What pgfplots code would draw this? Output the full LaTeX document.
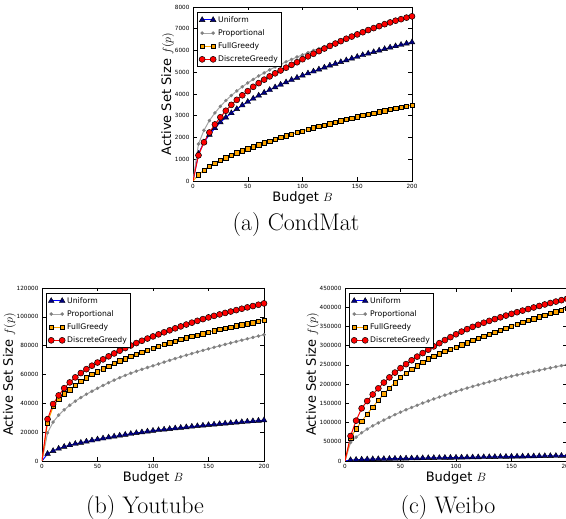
\documentclass[border=0pt]{standalone}
\usepackage{fontspec}
\usepackage{pgfplots}
\usepackage{pgfplotstable}
\pgfplotsset{compat=1.18}
\newfontfamily\dvs{DejaVu Sans}
\definecolor{navyblue}{RGB}{0,0,128}
\definecolor{mgray}{RGB}{128,128,128}
\definecolor{lgray}{RGB}{165,165,165}
\definecolor{morange}{RGB}{255,165,0}

\pgfplotstableread{
B U P F D
0 0 0 0 0
5 1250 1700 280 1180
10 1780 2330 500 1780
15 2130 2780 680 2230
20 2430 3130 820 2600
25 2700 3430 950 2930
30 2920 3700 1070 3230
35 3120 3930 1180 3500
40 3310 4140 1290 3730
45 3480 4330 1390 3940
50 3640 4510 1490 4130
55 3790 4670 1580 4330
60 3930 4830 1670 4500
65 4060 4970 1760 4660
70 4190 5110 1840 4810
75 4310 5240 1920 4950
80 4430 5360 2000 5080
85 4540 5480 2080 5210
90 4650 5590 2150 5340
95 4750 5700 2230 5460
100 4850 5800 2300 5600
105 4950 5900 2370 5730
110 5040 6000 2440 5850
115 5130 6090 2510 5970
120 5220 6180 2570 6090
125 5310 6270 2640 6210
130 5390 6360 2700 6320
135 5470 6450 2770 6430
140 5550 6540 2830 6540
145 5630 6630 2890 6640
150 5710 6720 2950 6740
155 5790 6810 3010 6840
160 5860 6900 3070 6940
165 5930 6990 3120 7030
170 6000 7080 3180 7120
175 6070 7170 3230 7210
180 6140 7250 3290 7290
185 6200 7330 3340 7370
190 6260 7410 3390 7440
195 6320 7490 3440 7510
200 6380 7560 3490 7570
}\condmat

\pgfplotstableread{
B U P F D
0 0 0 0 0
5 5000 19500 26500 29000
10 7000 27000 37800 39500
15 8600 31800 43000 45500
20 9900 35500 46600 50500
25 11000 38700 49500 54500
30 11900 41500 52500 58000
35 12700 44000 55200 61000
40 13500 46300 57700 63700
45 14300 48400 60000 66100
50 15000 50400 62000 68300
55 15700 52400 64000 70500
60 16380 54300 65900 72600
65 17030 56100 67700 74600
70 17660 57800 69400 76500
75 18260 59400 71000 78350
80 18850 60900 72600 80100
85 19420 62300 74100 81800
90 19970 63600 75600 83400
95 20500 64850 77000 84950
100 21000 66000 78300 86400
105 21430 67300 79600 87850
110 21850 68580 80800 89270
115 22260 69830 82000 90660
120 22670 71050 83200 92020
125 23070 72240 84300 93350
130 23470 73400 85400 94660
135 23860 74530 86400 95950
140 24240 75640 87400 97210
145 24620 76730 88400 98430
150 25000 77800 89400 99600
155 25350 78840 90300 100650
160 25690 79860 91200 101680
165 26030 80870 92100 102690
170 26360 81860 92900 103680
175 26690 82840 93700 104650
180 27020 83810 94500 105610
185 27340 84770 95300 106550
190 27660 85720 96000 107480
195 27980 86660 96800 108390
200 28300 87600 97500 109300
}\youtube

\pgfplotstableread{
B U P F D
0 0 0 0 0
5 2500 48000 59000 65000
10 3300 62000 84000 105000
15 3900 73500 103000 137000
20 4400 83000 122000 156000
25 4800 91500 140000 173000
30 5200 99000 158000 189000
35 5500 106500 175000 204000
40 5800 113500 190000 217500
45 6100 120500 204000 230000
50 6400 127000 218000 241500
55 6700 133200 228500 252000
60 7000 139200 238500 262000
65 7250 145000 248000 271500
70 7500 150600 257000 280700
75 7750 156000 265500 289600
80 8000 161300 272500 298200
85 8250 166400 279000 306500
90 8500 171300 285000 314500
95 8700 176200 290500 322200
100 8900 181000 296000 329600
105 9150 185400 302100 336600
110 9400 189700 308000 343000
115 9650 193900 313800 348900
120 9900 198000 319400 354400
125 10150 202000 324900 359600
130 10400 205900 330300 364500
135 10650 209700 335600 369200
140 10900 213400 340800 373800
145 11150 217000 345900 378300
150 11400 220600 351000 382700
155 11650 223800 355900 387000
160 11900 226950 360700 391200
165 12150 230050 365400 395300
170 12400 233100 370100 399300
175 12650 236150 374700 403250
180 12900 239150 379300 407150
185 13150 242150 383800 410950
190 13400 245100 388200 414700
195 13650 248050 392600 418350
200 13900 251000 397000 422000
}\weibo

\pgfplotsset{
  chart/.style={
    scale only axis, width=220pt, height=174pt,
    xmin=0, xmax=200, ymin=0,
    xtick={0,50,100,150,200},
    tick align=inside, major tick length=3.5pt,
    tick style={black, line width=0.5pt},
    axis line style={black, line width=0.8pt},
    tick label style={font=\dvs\fontsize{5.7}{6}\selectfont,
      /pgf/number format/fixed, /pgf/number format/1000 sep={},
      /pgf/number format/assume math mode=true},
    scaled y ticks=false,
    label style={font=\dvs\fontsize{13}{15}\selectfont},
    xlabel={Budget $B$}, ylabel={Active Set Size $f(p)$},
    xlabel style={yshift=4pt},
    ylabel shift=-6pt,
    legend cell align=left,
    legend style={at={(0.018,0.971)}, anchor=north west, draw=black,
      line width=0.8pt, font=\dvs\fontsize{7.7}{9}\selectfont,
      row sep=1.8pt, inner sep=1.8pt},
    legend image code/.code={\draw[##1, mark repeat=1, mark phase=1]
      plot coordinates {(0pt,0pt) (11pt,0pt)};},
  },
  uni/.style={color=blue, line width=1pt, mark=triangle*, mark size=3.3pt,
    mark phase=2, mark options={solid, fill=navyblue, draw=black, line width=0.4pt}},
  prop/.style={color=lgray, line width=1pt, mark=*, mark size=1.6pt,
    mark phase=2, mark options={solid, fill=mgray, draw=mgray, line width=0.3pt}},
  fgr/.style={color=morange, line width=1pt, mark=square*, mark size=2.2pt,
    mark phase=2, mark options={solid, fill=morange, draw=black, line width=0.5pt}},
  dgr/.style={color=red, line width=1pt, mark=*, mark size=3pt,
    mark phase=2, mark options={solid, fill=red, draw=black, line width=0.5pt}},
}

\begin{document}
\begin{tikzpicture}
\useasboundingbox (0,0) rectangle (566pt,519pt);
\clip (0,0) rectangle (566pt,519pt);

\begin{axis}[chart, at={(193pt,338pt)}, anchor=south west, width=219pt,
  ymax=8000, ytick={0,1000,...,8000}]
\addplot[uni] table[x=B,y=U] {\condmat}; \addlegendentry{Uniform}
\addplot[prop] table[x=B,y=P] {\condmat}; \addlegendentry{Proportional}
\addplot[fgr] table[x=B,y=F] {\condmat}; \addlegendentry{FullGreedy}
\addplot[dgr] table[x=B,y=D] {\condmat}; \addlegendentry{DiscreteGreedy}
\end{axis}

\begin{axis}[chart, at={(42pt,58pt)}, anchor=south west, width=222pt, height=173pt,
  ymax=120000, ytick={0,20000,...,120000}]
\addplot[uni] table[x=B,y=U] {\youtube}; \addlegendentry{Uniform}
\addplot[prop] table[x=B,y=P] {\youtube}; \addlegendentry{Proportional}
\addplot[fgr] table[x=B,y=F] {\youtube}; \addlegendentry{FullGreedy}
\addplot[dgr] table[x=B,y=D] {\youtube}; \addlegendentry{DiscreteGreedy}
\end{axis}

\begin{axis}[chart, at={(345pt,58pt)}, anchor=south west, width=222pt, height=173pt,
  ymax=450000, ytick={0,50000,...,450000}]
\addplot[uni] table[x=B,y=U] {\weibo}; \addlegendentry{Uniform}
\addplot[prop] table[x=B,y=P] {\weibo}; \addlegendentry{Proportional}
\addplot[fgr] table[x=B,y=F] {\weibo}; \addlegendentry{FullGreedy}
\addplot[dgr] table[x=B,y=D] {\weibo}; \addlegendentry{DiscreteGreedy}
\end{axis}

\node[anchor=base, font=\fontsize{24}{28}\selectfont] at (296pt,288pt) {(a) CondMat};
\node[anchor=base, font=\fontsize{24}{28}\selectfont] at (145pt,5pt) {(b) Youtube};
\node[anchor=base, font=\fontsize{24}{28}\selectfont] at (448pt,5pt) {(c) Weibo};
\end{tikzpicture}
\end{document}
